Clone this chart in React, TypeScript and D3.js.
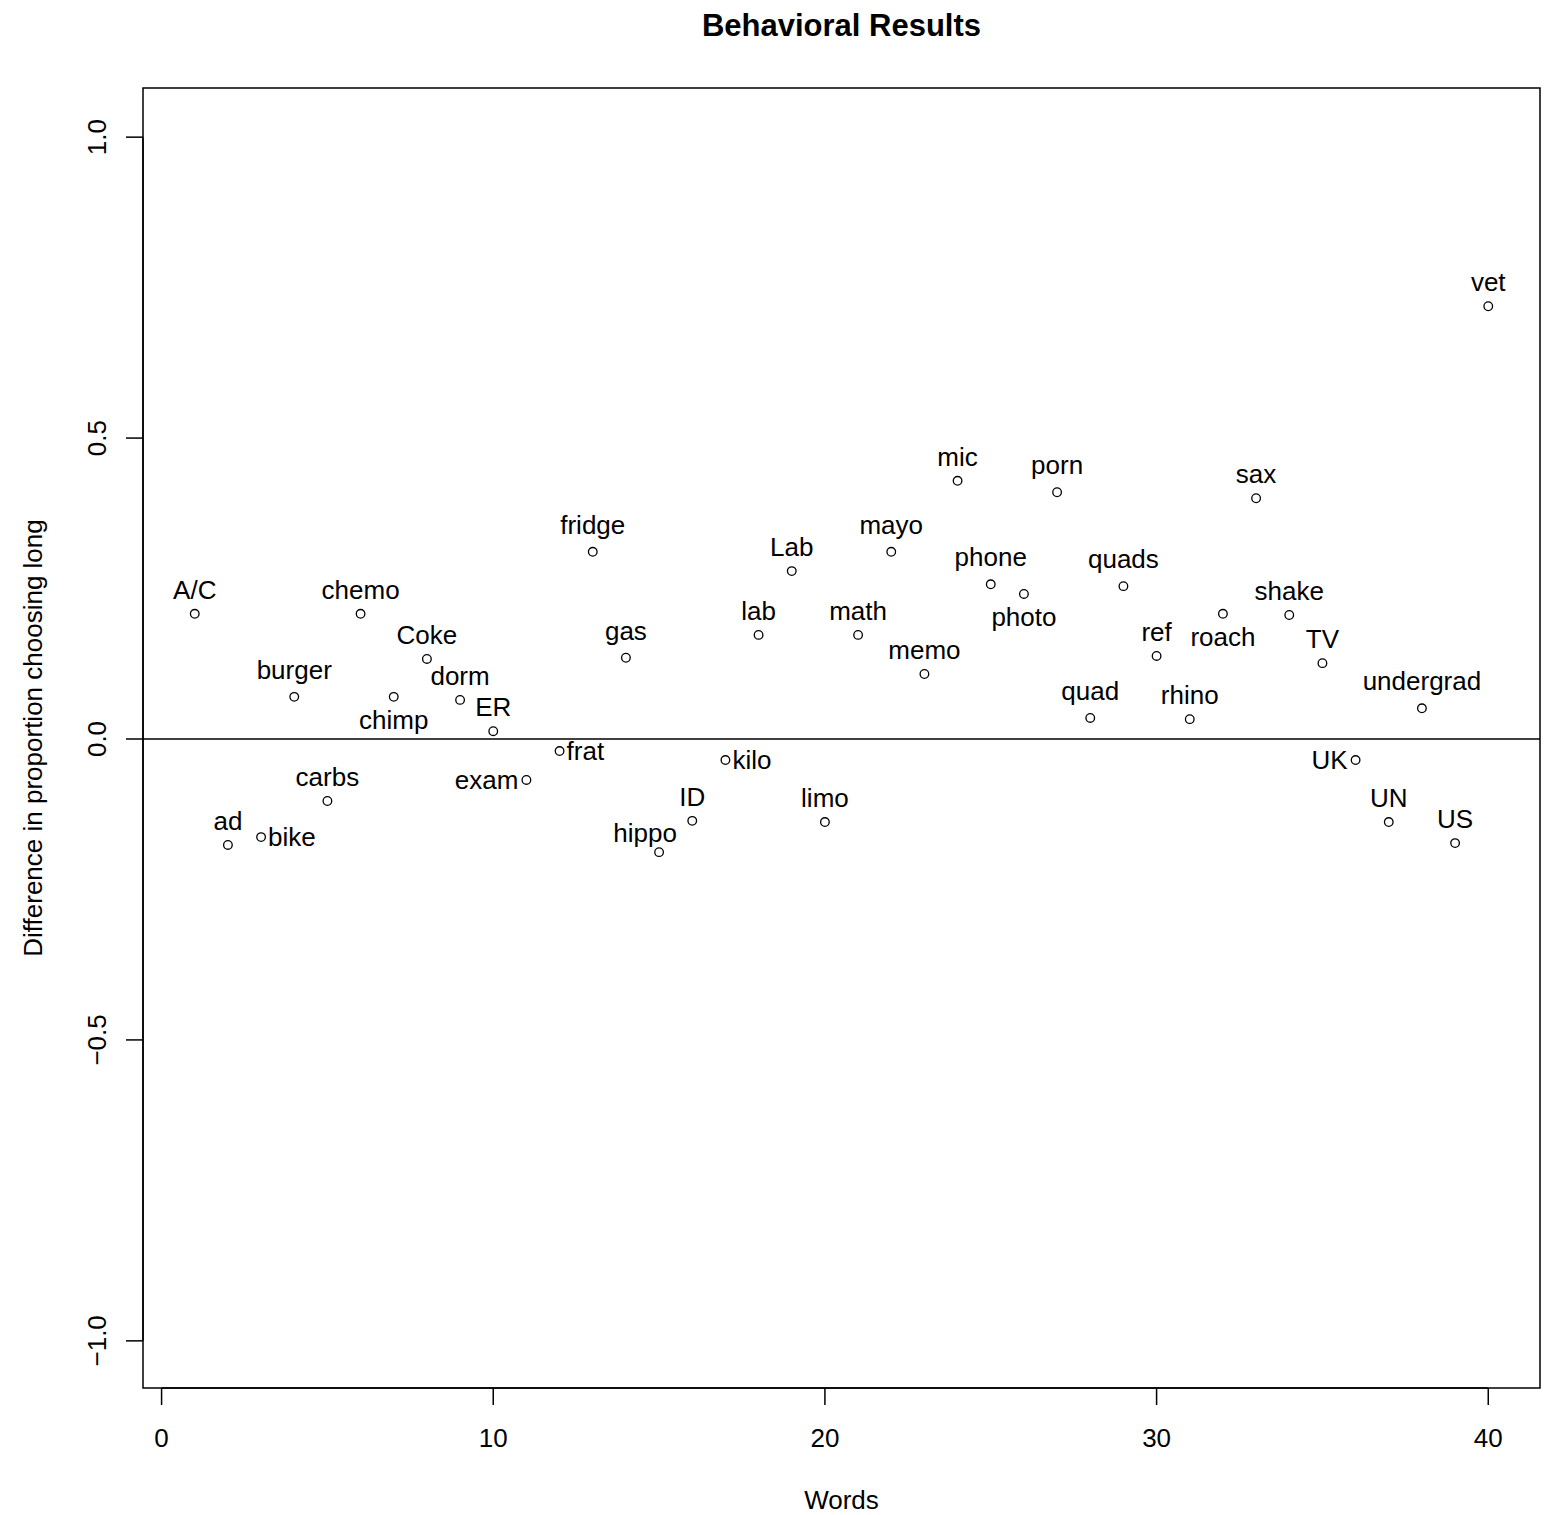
import React from "react";
import * as d3 from "d3";

const words = ["A/C","ad","bike","burger","carbs","chemo","chimp","Coke","dorm","ER","exam","frat","fridge","gas","hippo","ID","kilo","lab","Lab","limo","math","mayo","memo","mic","phone","photo","porn","quad","quads","ref","rhino","roach","sax","shake","TV","UK","UN","undergrad","US","vet"];
const diffs = [0.208,-0.176,-0.163,0.070,-0.103,0.208,0.070,0.133,0.065,0.013,-0.068,-0.020,0.311,0.135,-0.188,-0.136,-0.035,0.173,0.279,-0.138,0.173,0.311,0.108,0.429,0.257,0.241,0.410,0.035,0.254,0.138,0.033,0.208,0.400,0.206,0.126,-0.035,-0.138,0.051,-0.173,0.719];
// R-style text positions: 1 below, 2 left, 3 above, 4 right, "3L" above shifted left
const labelPos = ["3","3","4","3","3","3","1","3","3","3","2","4","3","3","3L","3","4","3","3","3","3","3","3","3","3","1","3","3","3","3","3","1","3","3","3","2","3","3","3","3"];
const xTicks = [0,10,20,30,40];
const yTicks = [-1.0,-0.5,0.0,0.5,1.0];

const W = 1545, H = 1515;
const L = 143, R = 1540, T = 88, B = 1388;
const FONT = "'Liberation Sans', Arial, Helvetica, sans-serif";

export default function App() {
  const x = d3.scaleLinear().domain([1 - 0.04 * 39, 40 + 0.04 * 39]).range([L, R]);
  const y = d3.scaleLinear().domain([-1.08, 1.08]).range([B + 1, T + 1]);
  const fs = 26;
  return (
    <svg width={W} height={H} style={{ position: "absolute", left: 0, top: 0, background: "#fff" }} fontFamily={FONT}>
      <rect x={0} y={0} width={W} height={H} fill="#fff" />
      <text x={(L + R) / 2} y={36} fontSize={31} fontWeight="bold" textAnchor="middle">Behavioral Results</text>
      {/* plot box */}
      <rect x={L} y={T} width={R - L} height={B - T} fill="none" stroke="#000" strokeWidth={1.5} />
      {/* zero line */}
      <line x1={L} x2={R} y1={y(0)} y2={y(0)} stroke="#000" strokeWidth={1.5} />
      {/* x axis */}
      <line x1={x(0)} x2={x(40)} y1={B} y2={B} stroke="#000" strokeWidth={1.5} />
      {xTicks.map(t => (
        <g key={"xt" + t}>
          <line x1={x(t)} x2={x(t)} y1={B} y2={B + 17} stroke="#000" strokeWidth={1.5} />
          <text x={x(t)} y={1447} fontSize={fs} textAnchor="middle">{t}</text>
        </g>
      ))}
      {/* y axis */}
      <line x1={L} x2={L} y1={y(-1)} y2={y(1)} stroke="#000" strokeWidth={1.5} />
      {yTicks.map(t => (
        <g key={"yt" + t}>
          <line x1={L - 17} x2={L} y1={y(t)} y2={y(t)} stroke="#000" strokeWidth={1.5} />
          <text x={0} y={0} transform={`translate(97,${y(t)}) rotate(-90)`} fontSize={fs} textAnchor="middle" dominantBaseline="central">{t.toFixed(1).replace("-", "\u2212")}</text>
        </g>
      ))}
      <text x={(L + R) / 2} y={1509} fontSize={fs} textAnchor="middle">Words</text>
      <text x={0} y={0} transform={`translate(33,${(T + B) / 2}) rotate(-90)`} fontSize={fs} textAnchor="middle" dominantBaseline="central">Difference in proportion choosing long</text>
      {/* points */}
      {diffs.map((v, i) => (
        <circle key={"p" + i} cx={x(i + 1)} cy={y(v)} r={4.3} fill="none" stroke="#000" strokeWidth={1.3} />
      ))}
      {/* labels */}
      {diffs.map((v, i) => {
        const px = x(i + 1), py = y(v);
        const p = labelPos[i];
        const w = words[i];
        const desc = /[gjpqy]/.test(w);
        let tx = px, ty = py, anchor: any = "middle", base: any = "auto";
        if (p === "3") { ty = py - 15 - (desc ? 3 : 0); }
        else if (p === "1") { ty = py + 23; base = "central"; }
        else if (p === "2") { tx = px - 8; anchor = "end"; base = "central"; }
        else if (p === "4") { tx = px + 7; anchor = "start"; base = "central"; }
        else if (p === "3L") { tx = px - 14; ty = py - 10; }
        return (
          <text key={"l" + i} x={tx} y={ty} fontSize={fs} textAnchor={anchor} dominantBaseline={base}>{w}</text>
        );
      })}
    </svg>
  );
}
